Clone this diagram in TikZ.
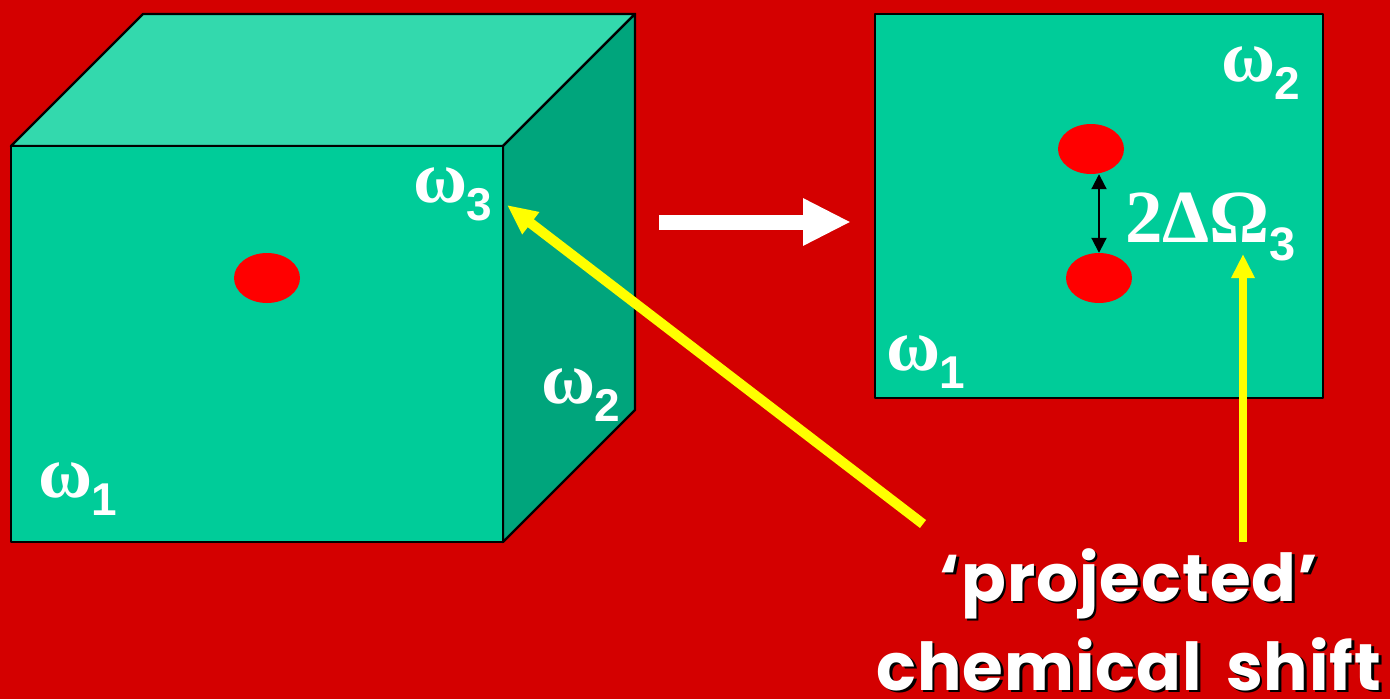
\documentclass[tikz,border=0pt]{standalone}
\usepackage{fontspec}
\setmainfont{Liberation Serif}
\newfontfamily\subfont{Liberation Sans}[BoldFont={Liberation Sans Bold}]
\newfontfamily\comicfont{Poppins}[LetterSpace=1.5,WordSpace=1.6]
\usetikzlibrary{arrows.meta,shapes.geometric,calc}
\definecolor{bgred}{HTML}{D40000}
\definecolor{facegreen}{HTML}{00CC99}
\definecolor{topgreen}{HTML}{33D9AD}
\definecolor{sidegreen}{HTML}{00A57C}
\definecolor{dotred}{HTML}{FF0000}
\definecolor{arrowyellow}{HTML}{FFFF00}
\newcommand{\textomega}{ω}
\newcommand{\omlabel}[1]{\fontsize{74}{74}\selectfont\bfseries\textomega\kern-1pt\raisebox{-18pt}{\subfont\fontsize{46}{46}\selectfont\bfseries #1}}
\newcommand{\shadowed}[1]{\leavevmode\rlap{\kern2.5pt\raisebox{-2.5pt}{\color{black}#1}}#1}
\tikzset{
  x=1pt,y=-1pt,
  face/.style={draw=black,line width=2.4pt,line join=round},
  spot/.style={ellipse,fill=dotred,draw=none,minimum width=66pt,minimum height=50pt,inner sep=0pt},
  axislabel/.style={text=white,anchor=base west,inner sep=0pt},
  yellowarrow/.style={draw=arrowyellow,line width=8pt,-{Triangle[length=24pt,width=22pt]}},
  yellowdiag/.style={draw=arrowyellow,line width=10pt,-{Triangle[length=30pt,width=26pt]}},
  whitearrow/.style={draw=white,line width=15pt,-{Triangle[length=48pt,width=44pt]}},
  blackarrow/.style={draw=black,line width=2pt,{Triangle[length=15pt,width=15pt]}-{Triangle[length=15pt,width=15pt]}},
  shifttext/.style={text=white,font=\comicfont\bfseries\fontsize{66}{89}\selectfont,align=center,inner sep=0pt,anchor=base}
}
\begin{document}
\begin{tikzpicture}
\useasboundingbox[fill=bgred] (0,0) rectangle (1390,699);
% cube
\draw[face,fill=topgreen] (11,146) -- (143,14) -- (635,14) -- (503,146) -- cycle;
\draw[face,fill=sidegreen] (503,146) -- (635,14) -- (635,410) -- (503,542) -- cycle;
\draw[face,fill=facegreen] (11,146) rectangle (503,542);
\node[spot] (dot) at (267,278) {};
\node[axislabel] (cw1) at (38,497) {\omlabel{1}};
\node[axislabel] (cw2) at (541,403) {\omlabel{2}};
\node[axislabel] (cw3) at (413,202) {\omlabel{3}};
% projection panel
\draw[face,fill=facegreen] (875,14) rectangle (1323,398);
\node[spot] (upper) at (1091,149) {};
\node[spot] (lower) at (1099,278) {};
\node[axislabel] (pw2) at (1221,81) {\omlabel{2}};
\node[axislabel] (pw1) at (886,370) {\omlabel{1}};
\node[axislabel,font=\bfseries\fontsize{75}{75}\selectfont] (delta) at (1125,242) {2ΔΩ\raisebox{-18pt}{\subfont\fontsize{47}{47}\selectfont\bfseries 3}};
\draw[blackarrow] (upper.south -| lower.north) -- (lower.north);
% white arrow
\coordinate (wstart) at (659,222);
\coordinate (wend) at (851,222);
\draw[whitearrow] (wstart) -- (wend);
% text
\node[shifttext] (shift) at (1129,690) {\shadowed{‘projected’}\\[0pt]\shadowed{chemical shift}};
% yellow arrows
\coordinate (ya) at (923,524);
\coordinate (yb) at (507,205);
\coordinate (yc) at (1243,542);
\coordinate (yd) at (1243,254);
\draw[yellowdiag] (ya) -- (yb);
\draw[yellowarrow] (yc) -- (yd);
\end{tikzpicture}
\end{document}
